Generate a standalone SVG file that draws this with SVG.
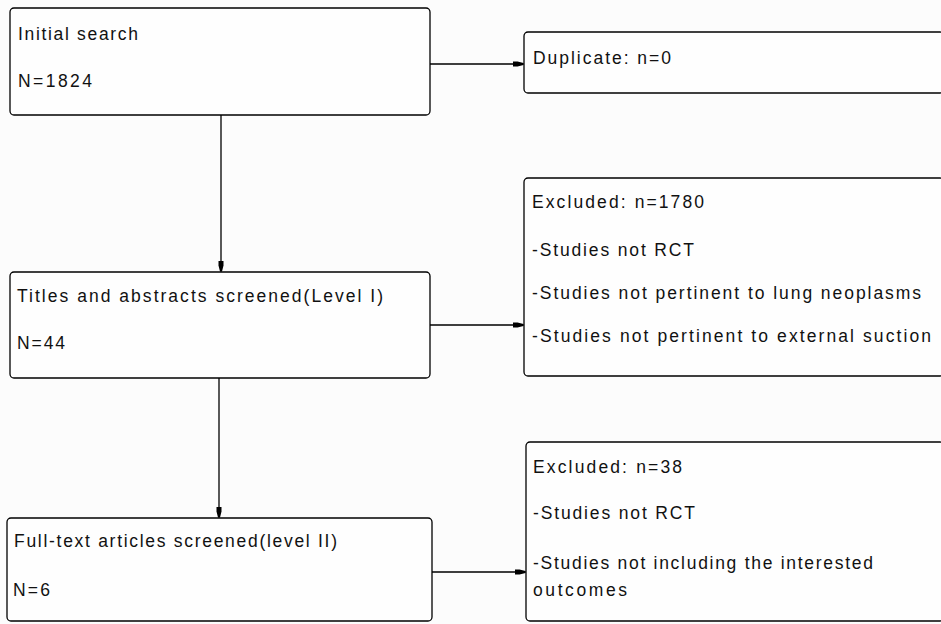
<svg xmlns="http://www.w3.org/2000/svg" width="941" height="624" viewBox="0 0 941 624">
  <style>
    .box { fill: #fefefe; stroke: #000; stroke-width: 1.3; }
    .t { font-family: "Liberation Sans", Arial, sans-serif; font-size: 17.5px; fill: #111; }
    .c { stroke: #000; stroke-width: 1.3; fill: none; }
  </style>
  <defs>
    <marker id="ah" markerUnits="userSpaceOnUse" markerWidth="12" markerHeight="8" refX="11" refY="4" orient="auto">
      <path d="M0,1.5 L5,1.5 L11,3 L11,5 L5,6.5 L0,6.5 Z" fill="#000"/>
    </marker>
  </defs>
  <rect x="0" y="0" width="941" height="624" fill="#fcfcfc"/>

  <g id="connectors">
    <line class="c" x1="430" y1="64" x2="523.5" y2="64" marker-end="url(#ah)"/>
    <line class="c" x1="221" y1="115" x2="221" y2="271.5" marker-end="url(#ah)"/>
    <line class="c" x1="430" y1="325" x2="523.5" y2="325" marker-end="url(#ah)"/>
    <line class="c" x1="219" y1="378" x2="219" y2="517.5" marker-end="url(#ah)"/>
    <line class="c" x1="432" y1="572" x2="525.5" y2="572" marker-end="url(#ah)"/>
  </g>

  <g id="initial">
    <rect class="box" x="10" y="8" width="420" height="107" rx="4"/>
    <text class="t" x="18" y="40" textLength="120" lengthAdjust="spacing">Initial search</text>
    <text class="t" x="18" y="87" textLength="74" lengthAdjust="spacing">N=1824</text>
  </g>

  <g id="duplicate">
    <rect class="box" x="524" y="32" width="420" height="61" rx="4"/>
    <text class="t" x="533" y="64" textLength="138" lengthAdjust="spacing">Duplicate: n=0</text>
  </g>

  <g id="titles">
    <rect class="box" x="10" y="272" width="420" height="106" rx="4"/>
    <text class="t" x="17" y="302" textLength="366" lengthAdjust="spacing">Titles and abstracts screened(Level I)</text>
    <text class="t" x="17" y="349" textLength="48" lengthAdjust="spacing">N=44</text>
  </g>

  <g id="excluded1">
    <rect class="box" x="524" y="178" width="420" height="198" rx="4"/>
    <text class="t" x="532" y="208" textLength="172" lengthAdjust="spacing">Excluded: n=1780</text>
    <text class="t" x="532" y="256" textLength="162" lengthAdjust="spacing">-Studies not RCT</text>
    <text class="t" x="532" y="299" textLength="389" lengthAdjust="spacing">-Studies not pertinent to lung neoplasms</text>
    <text class="t" x="532" y="342" textLength="399" lengthAdjust="spacing">-Studies not pertinent to external suction</text>
  </g>

  <g id="fulltext">
    <rect class="box" x="7" y="518" width="425" height="103" rx="4"/>
    <text class="t" x="14" y="547" textLength="323" lengthAdjust="spacing">Full-text articles screened(level II)</text>
    <text class="t" x="13" y="596" textLength="37" lengthAdjust="spacing">N=6</text>
  </g>

  <g id="excluded2">
    <rect class="box" x="526" y="442" width="418" height="179" rx="4"/>
    <text class="t" x="533" y="473" textLength="149" lengthAdjust="spacing">Excluded: n=38</text>
    <text class="t" x="533" y="519" textLength="162" lengthAdjust="spacing">-Studies not RCT</text>
    <text class="t" x="533" y="569" textLength="340" lengthAdjust="spacing">-Studies not including the interested</text>
    <text class="t" x="533" y="596" textLength="94" lengthAdjust="spacing">outcomes</text>
  </g>
</svg>
